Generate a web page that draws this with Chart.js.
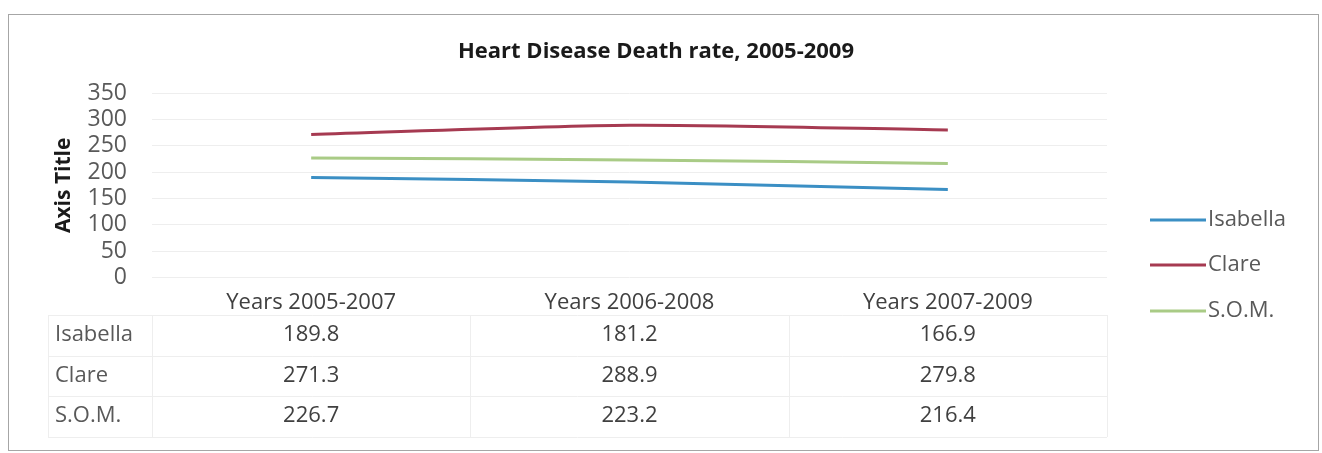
<!DOCTYPE html>
<html>
<head>
<meta charset="utf-8">
<script src="https://cdn.jsdelivr.net/npm/chart.js@4.4.1/dist/chart.umd.min.js"></script>
<style>
  html, body { margin: 0; padding: 0; background: #fff; }
</style>
</head>
<body>
<canvas id="canvas" width="1322" height="453"></canvas>
<script>
const periods = ['Years 2005-2007', 'Years 2006-2008', 'Years 2007-2009'];
const seriesNames = ['Isabella', 'Clare', 'S.O.M.'];
const isabella = [189.8, 181.2, 166.9];
const clare = [271.3, 288.9, 279.8];
const som = [226.7, 223.2, 216.4];
const seriesColors = ['#3b8fc4', '#a63a51', '#a9cb86'];
const chartTitle = 'Heart Disease Death rate, 2005-2009';

const FONT = "'Open Sans', 'DejaVu Sans', sans-serif";

const canvas = document.getElementById('canvas');
const ctx = canvas.getContext('2d');

// white background, thin frame and the title (centred on the whole frame, like Excel)
const frame = {
  id: 'frame',
  beforeDraw(chart) {
    const c = chart.ctx;
    c.save();
    c.fillStyle = '#fff';
    c.fillRect(0, 0, chart.width, chart.height);
    c.strokeStyle = '#a6a6a6';
    c.lineWidth = 1;
    c.strokeRect(8.5, 14.5, 1310, 436);
    c.fillStyle = '#1a1a1a';
    c.font = 'bold 22px ' + FONT;
    c.textAlign = 'center';
    c.textBaseline = 'middle';
    c.fillText(chartTitle, 656, 52);
    c.restore();
  }
};

// data table under the x axis, columns follow the x scale
const dataTable = {
  id: 'dataTable',
  afterDraw(chart) {
    const c = chart.ctx;
    const x = chart.scales.x;
    const rows = [isabella, clare, som];
    const rowY = [335, 376, 416];
    const lines = [315, 356, 396, 437];
    const left = 48, right = chart.chartArea.right;
    c.save();
    c.strokeStyle = '#eeeeee';
    c.lineWidth = 1;
    lines.forEach(y => {
      c.beginPath(); c.moveTo(left, y + 0.5); c.lineTo(right, y + 0.5); c.stroke();
    });
    const step = x.getPixelForValue(1) - x.getPixelForValue(0);
    const colEdges = [left, chart.chartArea.left];
    periods.forEach((p, i) => colEdges.push(Math.round(x.getPixelForValue(i) + step / 2)));
    colEdges.forEach(xx => {
      c.beginPath(); c.moveTo(xx + 0.5, lines[0]); c.lineTo(xx + 0.5, lines[3]); c.stroke();
    });
    c.font = '22px ' + FONT;
    c.textBaseline = 'middle';
    rows.forEach((vals, r) => {
      c.fillStyle = '#595959';
      c.textAlign = 'left';
      c.fillText(seriesNames[r], 55, rowY[r]);
      c.fillStyle = '#404040';
      c.textAlign = 'center';
      vals.forEach((v, i) => c.fillText(v.toFixed(1), x.getPixelForValue(i), rowY[r]));
    });
    c.restore();
  }
};

// legend on the right, Excel style: line sample then name
const sideLegend = {
  id: 'sideLegend',
  afterDraw(chart) {
    const c = chart.ctx;
    const itemY = [220, 265, 311];
    c.save();
    c.font = '22px ' + FONT;
    c.textBaseline = 'middle';
    c.textAlign = 'left';
    chart.data.datasets.forEach((ds, i) => {
      c.strokeStyle = ds.borderColor;
      c.lineWidth = 3;
      c.beginPath(); c.moveTo(1150, itemY[i]); c.lineTo(1206, itemY[i]); c.stroke();
      c.fillStyle = '#595959';
      c.fillText(ds.label, 1208, itemY[i]);
    });
    c.restore();
  }
};

const seriesData = [isabella, clare, som];

new Chart(ctx, {
  type: 'line',
  data: {
    labels: periods,
    datasets: seriesData.map((d, i) => ({
      label: seriesNames[i],
      data: d,
      borderColor: seriesColors[i],
      backgroundColor: seriesColors[i],
      borderWidth: 3,
      pointRadius: 0,
      tension: 0.25
    }))
  },
  options: {
    responsive: false,
    animation: false,
    layout: { padding: { left: 47, right: 215, top: 93, bottom: 125 } },
    plugins: {
      legend: { display: false },
      tooltip: { enabled: false },
      title: { display: false }
    },
    scales: {
      x: {
        offset: true,
        grid: { display: false, drawTicks: false },
        border: { display: false },
        ticks: { color: '#404040', padding: 12, font: { family: FONT, size: 22 } }
      },
      y: {
        min: 0,
        max: 350,
        ticks: { stepSize: 50, autoSkip: false, color: '#595959', padding: 25, font: { family: FONT, size: 23 } },
        grid: { color: '#eeeeee', drawTicks: false },
        border: { display: false },
        title: {
          display: true,
          text: 'Axis Title',
          color: '#1a1a1a',
          font: { family: FONT, size: 21, weight: 'bold' },
          padding: { top: 4, bottom: 4 }
        },
        afterFit(scale) { scale.width = 105; }
      }
    }
  },
  plugins: [frame, dataTable, sideLegend]
});
</script>
</body>
</html>
